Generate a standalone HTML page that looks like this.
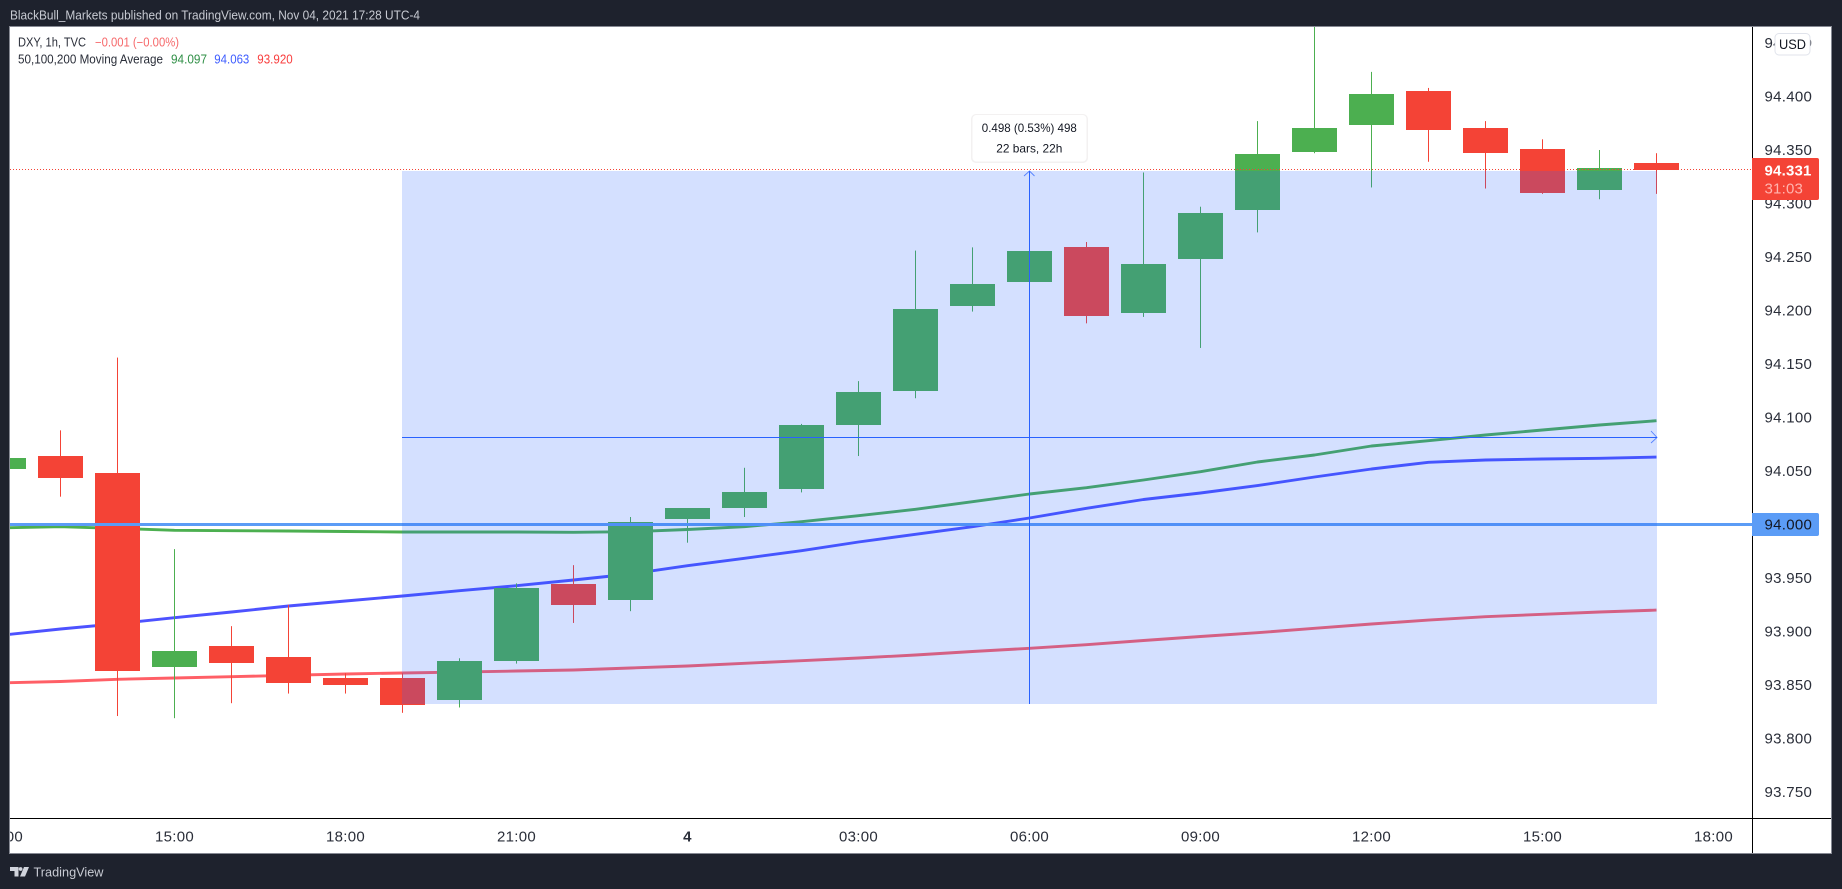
<!DOCTYPE html>
<html lang="en">
<head>
<meta charset="utf-8">
<title>DXY 1h chart</title>
<style>
html,body{margin:0;padding:0;background:#1e222d;width:1842px;height:889px;overflow:hidden}
svg{display:block}
text{font-family:"Liberation Sans",sans-serif}
</style>
</head>
<body>
<svg id="chart" xmlns="http://www.w3.org/2000/svg" width="1842" height="889" viewBox="0 0 1842 889">
  <defs>
    <clipPath id="plot-clip"><rect x="10" y="27" width="1742" height="791"/></clipPath>
    <clipPath id="time-clip"><rect x="10" y="819" width="1742" height="34"/></clipPath>
  </defs>
  <rect x="0" y="0" width="1842" height="889" fill="#1e222d"/>
  <text x="10" y="19.5" font-size="13" fill="#c8cbd3" textLength="410" lengthAdjust="spacingAndGlyphs">BlackBull_Markets published on TradingView.com, Nov 04, 2021 17:28 UTC-4</text>
  <rect x="9.5" y="26.5" width="1822" height="827" fill="#ffffff" stroke="#868993" stroke-width="1"/>

  <g id="plot" clip-path="url(#plot-clip)"></g>
  <g id="time-labels" clip-path="url(#time-clip)"></g>
  <g id="price-labels"></g>

  <rect x="1752" y="27" width="1" height="826" fill="#000000"/>
  <rect x="10" y="818" width="1821" height="1" fill="#000000"/>

  <g id="overlay-labels"></g>

  <rect x="1775" y="33.5" width="35" height="21.5" rx="4" fill="#ffffff" stroke="#e0e3eb"/>
  <text x="1792.5" y="49" font-size="13.5" fill="#131722" text-anchor="middle" textLength="27" lengthAdjust="spacingAndGlyphs">USD</text>

  <text x="18" y="46.5" font-size="12.5" fill="#2a2e39" textLength="68" lengthAdjust="spacingAndGlyphs">DXY, 1h, TVC</text>
  <text x="95" y="46.5" font-size="12.5" fill="#f6686a" textLength="84" lengthAdjust="spacingAndGlyphs">−0.001 (−0.00%)</text>
  <text x="18" y="63.5" font-size="12.5" fill="#2a2e39" textLength="145" lengthAdjust="spacingAndGlyphs">50,100,200 Moving Average</text>
  <text x="171" y="63.5" font-size="12.5" fill="#2f8f46" textLength="36" lengthAdjust="spacingAndGlyphs">94.097</text>
  <text x="214.3" y="63.5" font-size="12.5" fill="#3d5cff" textLength="35" lengthAdjust="spacingAndGlyphs">94.063</text>
  <text x="257.3" y="63.5" font-size="12.5" fill="#f93d3d" textLength="35.4" lengthAdjust="spacingAndGlyphs">93.920</text>

  <g fill="#d1d4dc">
    <path d="M10 867h8.5v9.5h-4v-5.5H10z"/>
    <circle cx="20.6" cy="869" r="1.9"/>
    <path d="M24 867h5l-4 9.5h-5z"/>
  </g>
  <text x="33.5" y="876.5" font-size="13" fill="#c8cbd3" textLength="70" lengthAdjust="spacingAndGlyphs">TradingView</text>
</svg>

<script>
// Time axis labels: one label every three bars, starting at the first bar.
const timeTickLabels = ['12:00','15:00','18:00','21:00','4','03:00','06:00','09:00','12:00','15:00','18:00'];
const priceTickLabels = ['93.750','93.800','93.850','93.900','93.950','94.050','94.100','94.150','94.200','94.250','94.300','94.350','94.400','94.450'];

// Hourly candles, 3 Nov 12:00 through 4 Nov 17:00.
const opens  = [94.052,94.064,94.048,93.867,93.886,93.876,93.857,93.857,93.836,93.872,93.944,93.929,94.005,94.015,94.033,94.093,94.125,94.204,94.227,94.259,94.198,94.248,94.294,94.348,94.373,94.405,94.371,94.351,94.313,94.338];
const highs  = [94.062,94.088,94.156,93.977,93.905,93.925,93.861,93.861,93.875,93.945,93.962,94.007,94.015,94.053,94.094,94.134,94.256,94.259,94.256,94.264,94.329,94.297,94.377,94.480,94.423,94.408,94.377,94.360,94.350,94.347];
const lows   = [94.052,94.026,93.821,93.819,93.833,93.842,93.842,93.824,93.829,93.870,93.908,93.919,93.983,94.007,94.030,94.064,94.118,94.199,94.227,94.188,94.194,94.165,94.273,94.347,94.315,94.339,94.314,94.309,94.304,94.309];
const closes = [94.062,94.043,93.863,93.882,93.871,93.852,93.850,93.831,93.872,93.941,93.925,94.002,94.015,94.030,94.093,94.124,94.201,94.225,94.256,94.195,94.243,94.291,94.346,94.371,94.402,94.369,94.347,94.310,94.333,94.331];

// Moving averages, one value per bar.
const ma50  = [93.9969,93.9979,93.9964,93.9946,93.9942,93.9939,93.9935,93.9930,93.9930,93.9930,93.9927,93.9933,93.9953,93.9979,94.0026,94.0082,94.0142,94.0213,94.0285,94.0344,94.0416,94.0493,94.0584,94.0650,94.0734,94.0783,94.0836,94.0883,94.0930,94.0970];
const ma100 = [93.8967,93.9023,93.9073,93.9129,93.9182,93.9238,93.9285,93.9332,93.9381,93.9428,93.9481,93.9537,93.9615,93.9684,93.9755,93.9836,93.9908,93.9979,94.0061,94.0151,94.0234,94.0294,94.0364,94.0444,94.0519,94.0581,94.0603,94.0612,94.0619,94.0630];
const ma200 = [93.8521,93.8533,93.8553,93.8565,93.8578,93.8591,93.8603,93.8612,93.8621,93.8631,93.8640,93.8659,93.8678,93.8703,93.8727,93.8752,93.8780,93.8813,93.8843,93.8877,93.8916,93.8953,93.8989,93.9030,93.9070,93.9107,93.9138,93.9161,93.9182,93.9200];

// Levels and the measuring tool.
const lastPrice = 94.331;
const alertLevel = 94.000;
const measureFromPrice = 93.832;
const measureToPrice = 94.330;
const measureFromBar = 7;
const measureToBar = 29;

const NS = 'http://www.w3.org/2000/svg';
function xScale(bar){ return 3.5 + 57 * bar; }
function yScale(price){ return 524.5 - (price - 94) * 1070; }
function make(tag, attrs, parent){
  const el = document.createElementNS(NS, tag);
  for (const k in attrs) el.setAttribute(k, attrs[k]);
  parent.appendChild(el);
  return el;
}
const plot = document.getElementById('plot');
const timeLayer = document.getElementById('time-labels');
const priceLayer = document.getElementById('price-labels');
const tagLayer = document.getElementById('overlay-labels');

function drawMA(values, color, name){
  const d = values.map((v, i) => (i ? 'L' : 'M') + xScale(i).toFixed(1) + ' ' + yScale(v).toFixed(1)).join(' ');
  const el = make('path', {d: d, fill: 'none', stroke: color, 'stroke-width': 2.9, 'stroke-linejoin': 'round'}, plot);
  
  
}
drawMA(ma200, '#ff5f66', 'ma200-line');
drawMA(ma100, '#4d52ff', 'ma100-line');
drawMA(ma50, '#4caf50', 'ma50-line');

opens.forEach(function(open, i){
  const close = closes[i];
  const color = close >= open ? '#4caf50' : '#f44336';
  const cx = xScale(i);
  const top = Math.round(yScale(Math.max(open, close)));
  const bottom = Math.round(yScale(Math.min(open, close)));
  const wick = make('rect', {x: Math.floor(cx), y: yScale(highs[i]), width: 1, height: yScale(lows[i]) - yScale(highs[i]), fill: color}, plot);
  
  
  const body = make('rect', {x: Math.round(cx - 22.5), y: top, width: 45, height: Math.max(1, bottom - top), fill: color}, plot);
  
  
});

const alertLine = make('rect', {x: 10, y: yScale(alertLevel) - 1.5, width: 1742, height: 3, fill: '#5b9cf6'}, plot);



const mLeft = Math.round(xScale(measureFromBar) - 0.5);
const mRight = Math.round(xScale(measureToBar) + 0.5);
const mTop = Math.round(yScale(measureToPrice));
const mBottom = Math.round(yScale(measureFromPrice));
const mMidY = Math.floor(yScale((measureToPrice + measureFromPrice) / 2));
const mMidX = Math.floor(xScale((measureFromBar + measureToBar) / 2));

const measureRect = make('rect', {x: mLeft, y: mTop, width: mRight - mLeft, height: mBottom - mTop, fill: '#2962ff', 'fill-opacity': 0.2}, plot);



const measureH = make('rect', {x: mLeft, y: mMidY, width: mRight - mLeft, height: 1, fill: '#2962ff'}, plot);



const measureV = make('rect', {x: mMidX, y: mTop, width: 1, height: mBottom - mTop, fill: '#2962ff'}, plot);



const arrowUp = make('path', {d: 'M' + (mMidX - 5) + ' ' + (mTop + 5) + ' L' + (mMidX + 0.5) + ' ' + mTop + ' L' + (mMidX + 5.5) + ' ' + (mTop + 5), fill: 'none', stroke: '#2962ff', 'stroke-width': 0.9, 'stroke-opacity': 0.75}, plot);



const arrowRight = make('path', {d: 'M' + (mRight - 6) + ' ' + (mMidY - 6) + ' L' + mRight + ' ' + (mMidY + 0.5) + ' L' + (mRight - 6) + ' ' + (mMidY + 6), fill: 'none', stroke: '#2962ff', 'stroke-width': 0.9, 'stroke-opacity': 0.75}, plot);



const priceLine = make('line', {x1: 10, x2: 1752, y1: Math.round(yScale(lastPrice)) - 0.5, y2: Math.round(yScale(lastPrice)) - 0.5, stroke: '#f44336', 'stroke-width': 1, 'stroke-dasharray': '1 2'}, plot);



const tipShadow = make('rect', {x: mMidX - 58, y: 114, width: 117, height: 49, rx: 5, fill: '#f3f1f1'}, plot);



const tipBox = make('rect', {x: mMidX - 56.5, y: 115, width: 114, height: 46.5, rx: 4, fill: '#ffffff'}, plot);



const tip1 = make('text', {x: mMidX + 0.3, y: 132, 'font-size': 12, fill: '#131722', 'text-anchor': 'middle', textLength: 95, lengthAdjust: 'spacingAndGlyphs'}, plot);
tip1.textContent = '0.498 (0.53%) 498';



const tip2 = make('text', {x: mMidX + 0.3, y: 152.5, 'font-size': 12, fill: '#131722', 'text-anchor': 'middle', textLength: 66, lengthAdjust: 'spacingAndGlyphs'}, plot);
tip2.textContent = '22 bars, 22h';



timeTickLabels.forEach(function(label, k){
  const isDay = label.indexOf(':') < 0;
  const t = make('text', {x: xScale(k * 3), y: 841.5, 'font-size': 15, 'letter-spacing': 0.3, 'font-weight': isDay ? 'bold' : 'normal', fill: '#2a2e39', 'text-anchor': 'middle'}, timeLayer);
  t.textContent = label;
  
  
});

priceTickLabels.forEach(function(label){
  const t = make('text', {x: 1764.5, y: yScale(parseFloat(label)) + 4.8, 'font-size': 15, 'letter-spacing': 0.3, fill: '#2a2e39'}, priceLayer);
  t.textContent = label;
  
  
});

const levelTag = make('path', {d: 'M1752 513h65a2 2 0 0 1 2 2v19a2 2 0 0 1 -2 2h-65z', fill: '#5b9cf6'}, tagLayer);



const levelText = make('text', {x: 1764.5, y: yScale(alertLevel) + 4.8, 'font-size': 15, 'letter-spacing': 0.3, fill: '#131722'}, tagLayer);
levelText.textContent = alertLevel.toFixed(3);



const lastTag = make('path', {d: 'M1752 158h65a2 2 0 0 1 2 2v38a2 2 0 0 1 -2 2h-65z', fill: '#f44336'}, tagLayer);



const lastText = make('text', {x: 1764.5, y: 175.5, 'font-size': 15, 'letter-spacing': 0.2, 'font-weight': 'bold', fill: '#ffffff'}, tagLayer);
lastText.textContent = lastPrice.toFixed(3);



const countdown = make('text', {x: 1764.5, y: 193.5, 'font-size': 15, 'letter-spacing': 0.2, fill: '#ffb4ae'}, tagLayer);
countdown.textContent = '31:03';


</script>
</body>
</html>
